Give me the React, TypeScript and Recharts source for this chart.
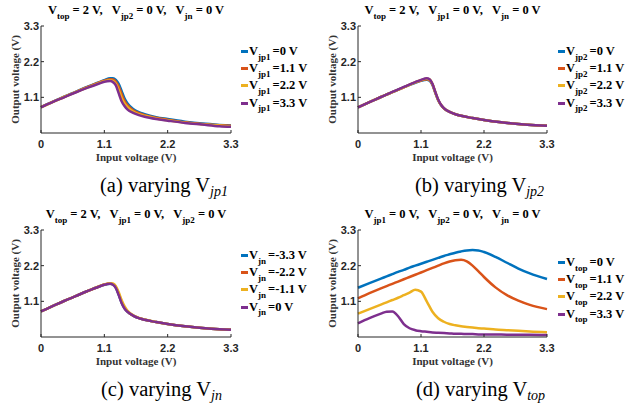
import React from "react";
import { LineChart, Line, XAxis, YAxis, Legend, Label } from "recharts";

// MATLAB default line colours
const COLORS = ["#0072BD", "#D95319", "#EDB120", "#7E2F8E"];
const AXIS = "#262626";
const SERIF = "'Liberation Serif', 'Times New Roman', serif";
const SANS = "'Liberation Sans', Arial, sans-serif";

const X_TICKS = [0, 1.1, 2.2, 3.3];
const Y_TICKS = [1.1, 2.2, 3.3];
const LEGEND_POS = ["=0 V", "=1.1 V", "=2.2 V", "=3.3 V"];
const LEGEND_JN = ["=-3.3 V", "=-2.2 V", "=-1.1 V", "=0 V"];

// input voltage samples
const VIN = [0, 0.2, 0.4, 0.6, 0.8, 1.0, 1.1, 1.2, 1.25, 1.3, 1.35, 1.4, 1.45, 1.5, 1.6, 1.7, 1.8, 2.0, 2.2, 2.5, 2.8, 3.1, 3.3];
const VIN_TOP = [0, 0.2, 0.4, 0.5, 0.6, 0.7, 0.8, 0.9, 1.0, 1.1, 1.2, 1.3, 1.4, 1.5, 1.6, 1.7, 1.8, 1.9, 2.0, 2.1, 2.2, 2.4, 2.6, 2.8, 3.0, 3.3];

// (a) varying Vjp1
const A_0 = [0.80, 0.96, 1.12, 1.27, 1.42, 1.56, 1.63, 1.69, 1.69, 1.64, 1.52, 1.30, 1.07, 0.92, 0.74, 0.64, 0.58, 0.49, 0.43, 0.35, 0.29, 0.25, 0.23];
const A_11 = [0.80, 0.96, 1.11, 1.26, 1.41, 1.55, 1.61, 1.66, 1.65, 1.58, 1.43, 1.20, 0.99, 0.86, 0.70, 0.61, 0.55, 0.47, 0.41, 0.33, 0.28, 0.24, 0.22];
const A_22 = [0.79, 0.95, 1.11, 1.26, 1.40, 1.54, 1.60, 1.63, 1.61, 1.52, 1.33, 1.09, 0.91, 0.80, 0.66, 0.58, 0.53, 0.45, 0.39, 0.32, 0.27, 0.23, 0.20];
const A_33 = [0.79, 0.95, 1.10, 1.25, 1.39, 1.52, 1.58, 1.60, 1.57, 1.47, 1.22, 0.98, 0.83, 0.73, 0.62, 0.55, 0.50, 0.43, 0.38, 0.31, 0.26, 0.21, 0.19];

// (b) varying Vjp2
const B_0 = [0.79, 0.95, 1.11, 1.26, 1.41, 1.55, 1.61, 1.64, 1.61, 1.48, 1.24, 1.01, 0.86, 0.76, 0.65, 0.58, 0.53, 0.46, 0.40, 0.33, 0.28, 0.24, 0.22];
const B_11 = [0.79, 0.95, 1.11, 1.26, 1.41, 1.56, 1.62, 1.66, 1.63, 1.50, 1.25, 1.02, 0.86, 0.76, 0.65, 0.58, 0.53, 0.46, 0.40, 0.33, 0.28, 0.24, 0.22];
const B_22 = [0.79, 0.95, 1.11, 1.26, 1.41, 1.56, 1.63, 1.67, 1.65, 1.51, 1.26, 1.02, 0.87, 0.77, 0.65, 0.58, 0.53, 0.46, 0.40, 0.33, 0.28, 0.24, 0.22];
const B_33 = [0.79, 0.95, 1.11, 1.27, 1.42, 1.57, 1.64, 1.69, 1.66, 1.52, 1.27, 1.03, 0.87, 0.77, 0.65, 0.58, 0.53, 0.46, 0.40, 0.33, 0.28, 0.24, 0.22];

// (c) varying Vjn
const C_M33 = [0.79, 0.95, 1.11, 1.26, 1.41, 1.55, 1.61, 1.64, 1.62, 1.52, 1.30, 1.06, 0.89, 0.78, 0.66, 0.58, 0.53, 0.46, 0.40, 0.33, 0.28, 0.24, 0.22];
const C_M22 = [0.79, 0.95, 1.11, 1.26, 1.41, 1.55, 1.62, 1.65, 1.63, 1.54, 1.33, 1.09, 0.91, 0.79, 0.66, 0.58, 0.53, 0.46, 0.40, 0.33, 0.28, 0.24, 0.22];
const C_M11 = [0.79, 0.95, 1.11, 1.26, 1.41, 1.56, 1.62, 1.66, 1.65, 1.57, 1.38, 1.14, 0.95, 0.82, 0.67, 0.59, 0.54, 0.46, 0.40, 0.33, 0.28, 0.24, 0.22];
const C_0 = [0.79, 0.95, 1.11, 1.26, 1.41, 1.55, 1.61, 1.64, 1.61, 1.51, 1.29, 1.05, 0.88, 0.78, 0.66, 0.58, 0.53, 0.46, 0.40, 0.33, 0.28, 0.24, 0.22];

// (d) varying Vtop
const D_0 = [1.52, 1.66, 1.80, 1.87, 1.94, 2.01, 2.07, 2.14, 2.20, 2.26, 2.32, 2.38, 2.44, 2.50, 2.55, 2.60, 2.64, 2.67, 2.68, 2.67, 2.62, 2.47, 2.29, 2.11, 1.96, 1.79];
const D_11 = [1.19, 1.35, 1.50, 1.57, 1.64, 1.71, 1.78, 1.85, 1.92, 1.99, 2.06, 2.13, 2.20, 2.27, 2.33, 2.37, 2.38, 2.33, 2.20, 2.03, 1.85, 1.53, 1.29, 1.12, 0.99, 0.86];
const D_22 = [0.72, 0.86, 1.00, 1.07, 1.14, 1.21, 1.29, 1.37, 1.46, 1.40, 1.10, 0.78, 0.58, 0.47, 0.40, 0.36, 0.33, 0.31, 0.29, 0.27, 0.26, 0.23, 0.21, 0.19, 0.17, 0.15];
const D_33 = [0.42, 0.58, 0.72, 0.78, 0.79, 0.64, 0.40, 0.27, 0.21, 0.18, 0.16, 0.14, 0.13, 0.12, 0.11, 0.10, 0.10, 0.09, 0.09, 0.08, 0.08, 0.08, 0.07, 0.07, 0.07, 0.06];

type Part = [string, string];

const PANELS = [
  {
    left: 0, top: 0, right: 79, legendTop: 43, capLeft: 100,
    vin: VIN, series: [A_0, A_11, A_22, A_33], names: LEGEND_POS, sub: "jp1",
    title: [["top", "= 2 V,"], ["jp2", "= 0 V,"], ["jn", "= 0 V"]] as Part[],
    cap: "(a)",
  },
  {
    left: 317, top: 0, right: 80, legendTop: 43, capLeft: 98,
    vin: VIN, series: [B_0, B_11, B_22, B_33], names: LEGEND_POS, sub: "jp2",
    title: [["top", "= 2 V,"], ["jp1", "= 0 V,"], ["jn", "= 0 V"]] as Part[],
    cap: "(b)",
  },
  {
    left: 0, top: 204, right: 79, legendTop: 43, capLeft: 101,
    vin: VIN, series: [C_M33, C_M22, C_M11, C_0], names: LEGEND_JN, sub: "jn",
    title: [["top", "= 2 V,"], ["jp1", "= 0 V,"], ["jp2", "= 0 V"]] as Part[],
    cap: "(c)",
  },
  {
    left: 317, top: 204, right: 80, legendTop: 50, capLeft: 99,
    vin: VIN_TOP, series: [D_0, D_11, D_22, D_33], names: LEGEND_POS, sub: "top",
    title: [["jp1", "= 0 V,"], ["jp2", "= 0 V,"], ["jn", "= 0 V"]] as Part[],
    cap: "(d)",
  },
];

const TICK = { fill: AXIS, fontSize: 11, fontWeight: "bold", fontFamily: SANS };
const AXIS_TITLE = { fontFamily: SERIF, fontWeight: "bold", fontSize: 11, fill: "#333" } as const;

const XTitle = (props: any) => {
  const vb = props.viewBox;
  return (
    <text x={vb.x + vb.width / 2} y={vb.y + 28} textAnchor="middle" style={AXIS_TITLE}>
      Input voltage (V)
    </text>
  );
};

const YTitle = (props: any) => {
  const vb = props.viewBox;
  const cx = vb.x + 19;
  const cy = vb.y + vb.height / 2;
  return (
    <text x={cx} y={cy} transform={`rotate(-90, ${cx}, ${cy})`} textAnchor="middle" style={AXIS_TITLE}>
      Output voltage (V)
    </text>
  );
};

const legendContent = (sub: string) => (props: any) => (
  <div style={{ fontFamily: SERIF, fontWeight: "bold", color: "#000" }}>
    {(props.payload || []).map((e: any) => (
      <div key={e.value} style={{ display: "flex", alignItems: "center", height: 17.2, whiteSpace: "nowrap" }}>
        <span style={{ display: "inline-block", width: 7, height: 3, background: e.color, marginRight: 1 }} />
        <span style={{ fontSize: 12.5 }}>V</span>
        <span style={{ fontSize: 9, position: "relative", top: 5 }}>{sub}</span>
        <span style={{ fontSize: 12.5, marginLeft: 2 }}>{e.value}</span>
      </div>
    ))}
  </div>
);

function Panel({ p }: { p: (typeof PANELS)[number] }) {
  const data = p.vin.map((x, i) => ({
    x,
    s0: p.series[0][i],
    s1: p.series[1][i],
    s2: p.series[2][i],
    s3: p.series[3][i],
  }));
  const plotW = 310 - 41 - p.right;
  return (
    <div style={{ position: "absolute", left: p.left, top: p.top, width: 310, height: 200 }}>
      <div
        style={{
          position: "absolute", left: 41, top: 3, width: plotW, textAlign: "center",
          fontFamily: SERIF, fontWeight: "bold", fontSize: 12.5, lineHeight: "15px", whiteSpace: "pre",
        }}
      >
        {p.title.map(([s, rest], i) => (
          <span key={i}>
            {i > 0 ? "   " : ""}V<span style={{ fontSize: 9, position: "relative", top: 5 }}>{s}</span> {rest}
          </span>
        ))}
      </div>
      <LineChart width={310} height={200} data={data} margin={{ top: 26, right: p.right, bottom: 37, left: 0 }}>
        <XAxis
          dataKey="x" type="number" domain={[0, 3.3]} ticks={X_TICKS} interval={0}
          tickSize={-3} tickMargin={10} height={30} stroke={AXIS} tick={TICK}
        >
          <Label content={XTitle} />
        </XAxis>
        <XAxis
          xAxisId="top" orientation="top" dataKey="x" type="number" domain={[0, 3.3]} ticks={X_TICKS}
          interval={0} tickSize={-3} height={0} stroke={AXIS} tick={false}
        />
        <YAxis
          type="number" domain={[0, 3.3]} ticks={Y_TICKS} interval={0}
          tickSize={-3} tickMargin={5} width={41} stroke={AXIS} tick={TICK}
        >
          <Label content={YTitle} />
        </YAxis>
        <YAxis
          yAxisId="right" orientation="right" type="number" domain={[0, 3.3]} ticks={Y_TICKS}
          interval={0} tickSize={-3} width={0} stroke={AXIS} tick={false}
        />
        <Legend
          content={legendContent(p.sub)} layout="vertical" align="center" verticalAlign="middle"
          itemSorter={(item: any) => String(item.dataKey)}
          wrapperStyle={{ left: 241, top: p.legendTop, width: 68 }}
        />
        {[0, 1, 2, 3].map((k) => (
          <Line
            key={k} dataKey={`s${k}`} name={p.names[k]} type="monotone" stroke={COLORS[k]}
            strokeWidth={2.5} dot={false} isAnimationActive={false}
          />
        ))}
      </LineChart>
      <div
        style={{
          position: "absolute", left: p.capLeft, top: 174, fontFamily: SERIF, fontSize: 20.5,
          lineHeight: "22px", whiteSpace: "nowrap", color: "#000",
        }}
      >
        {p.cap} varying V
        <span style={{ fontSize: 14, fontStyle: "italic", position: "relative", top: 4 }}>{p.sub}</span>
      </div>
    </div>
  );
}

export default function App() {
  return (
    <div style={{ position: "absolute", left: 0, top: 0, width: 631, height: 406, background: "#fff" }}>
      {PANELS.map((p, i) => (
        <Panel key={i} p={p} />
      ))}
    </div>
  );
}
